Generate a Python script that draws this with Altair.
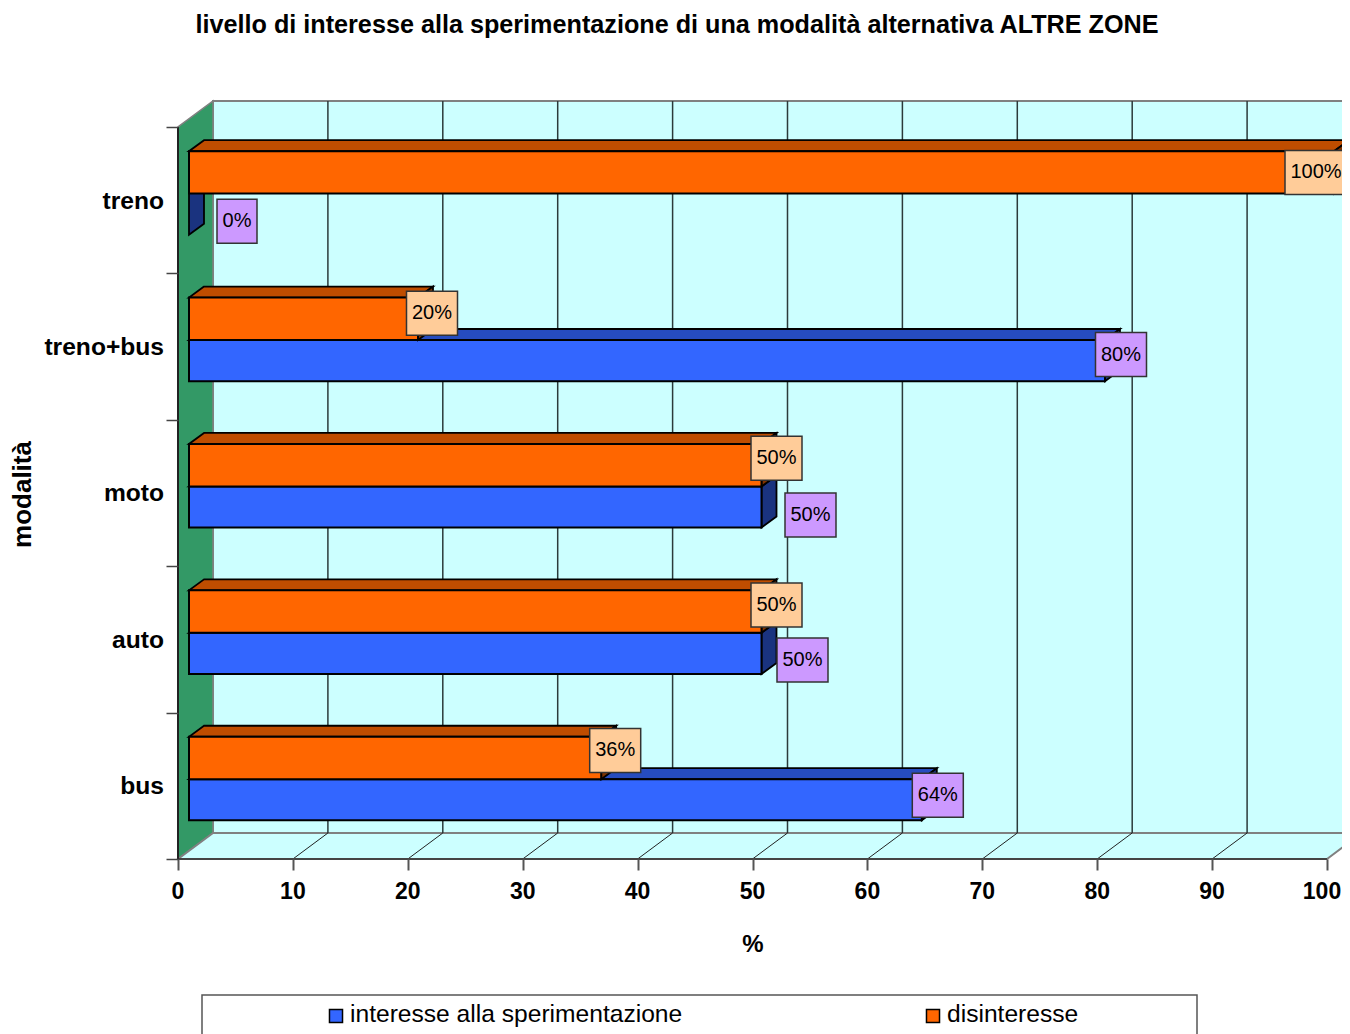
import altair as alt
import pandas as pd

# ---- data ----
CATEGORIES = ["bus", "auto", "moto", "treno+bus", "treno"]
INTERESSE = [64, 50, 50, 80, 0]
DISINTERESSE = [36, 50, 50, 20, 100]
SERIES = ["interesse alla sperimentazione", "disinteresse"]
X_TICKS = list(range(0, 101, 10))
TITLE = "livello di interesse alla sperimentazione di una modalità alternativa ALTRE ZONE"

# ---- layout ----
W, H = 1334, 1026
BOTTOM = 8 + H
RIGHT = 8 + W
PX_X, PX_Y = 11.49, 146.4          # pixels per data unit
X0_PX, Y0_PX = 178, 859            # page position of the front-left floor corner
def ux(px): return (px - X0_PX) / PX_X
def uy(py): return (Y0_PX - py) / PX_Y
def vx(px): return alt.value(px - 8)
def vy(py): return alt.value(py - 8)

N = len(CATEGORIES)
XS = alt.Scale(domain=[ux(8), ux(RIGHT)], nice=False, zero=False)
YS = alt.Scale(domain=[uy(BOTTOM), uy(8)], nice=False, zero=False)
XAX = alt.Axis(values=X_TICKS, offset=-(BOTTOM - Y0_PX), grid=False, domain=False,
               tickSize=11, tickColor="#555555", tickWidth=2, labels=False, title=None, zindex=1)
YAX = alt.Axis(values=list(range(N + 1)), offset=-(X0_PX - 8), grid=False, domain=False,
               tickSize=12, tickColor="#444444", tickWidth=1.5, labels=False, title=None, zindex=1)
def X(f="x"): return alt.X(f"{f}:Q", scale=XS, axis=XAX)
def Y(f="y"): return alt.Y(f"{f}:Q", scale=YS, axis=YAX)

FLOOR_DX, FLOOR_DY = ux(213), uy(833)   # depth of the 3D box
BAR_LEFT = 11 / PX_X
BAR_SCALE = 11.45 / PX_X
BAR_DX, BAR_DY = 15 / PX_X, 11 / PX_Y
C_WALL, C_GREEN, C_EDGE = "#CCFFFF", "#339966", "#808080"
C_GRID = "#2b3a3a"

layers = []

# --- back wall, side wall, floor ---
layers.append(alt.Chart(pd.DataFrame({"x": [FLOOR_DX], "x2": [FLOOR_DX + 100], "y": [FLOOR_DY], "y2": [FLOOR_DY + N]}))
    .mark_rect(fill=C_WALL, stroke=C_EDGE, strokeWidth=2, clip=True)
    .encode(x=X(), x2="x2:Q", y=Y(), y2="y2:Q"))

layers.append(alt.Chart(pd.DataFrame({"x": [0, FLOOR_DX], "y": [0, FLOOR_DY], "y2": [N, N + FLOOR_DY]}))
    .mark_area(fill=C_GREEN, stroke=C_EDGE, strokeWidth=1.5, opacity=1)
    .encode(x=X(), y=Y(), y2="y2:Q"))

layers.append(alt.Chart(pd.DataFrame({"y": [0, FLOOR_DY], "x": [0, FLOOR_DX], "x2": [100, 100 + FLOOR_DX]}))
    .mark_area(orient="horizontal", fill=C_WALL, stroke=C_EDGE, strokeWidth=2, clip=True, opacity=1)
    .encode(y=Y(), x=X(), x2="x2:Q"))

# gridlines on wall + floor
tick_inner = X_TICKS[1:-1]
layers.append(alt.Chart(pd.DataFrame({"x": [t + FLOOR_DX for t in tick_inner], "y": [FLOOR_DY] * len(tick_inner), "y2": [FLOOR_DY + N] * len(tick_inner)}))
    .mark_rule(color=C_GRID, strokeWidth=1.5)
    .encode(x=X(), y=Y(), y2="y2:Q"))
floor_rows = []
for t in tick_inner:
    floor_rows += [{"k": t, "x": t, "y": 0}, {"k": t, "x": t + FLOOR_DX, "y": FLOOR_DY}]
layers.append(alt.Chart(pd.DataFrame(floor_rows)).mark_line(color="#222222", strokeWidth=1)
    .encode(x=X(), y=Y(), detail="k:N"))

# axis lines
layers.append(alt.Chart(pd.DataFrame({"x": [0], "x2": [100], "y": [0]})).mark_rule(color="#444444", strokeWidth=2)
    .encode(x=X(), x2="x2:Q", y=Y()))
layers.append(alt.Chart(pd.DataFrame({"x": [0], "y": [0], "y2": [N]})).mark_rule(color="#222222", strokeWidth=2)
    .encode(x=X(), y=Y(), y2="y2:Q"))

# x tick labels (the last one is kept inside the page)
layers.append(alt.Chart(pd.DataFrame({"t": [str(t) for t in X_TICKS], "x": [min(t, ux(RIGHT - 20)) for t in X_TICKS], "y": [uy(892)] * len(X_TICKS)}))
    .mark_text(font="Liberation Sans", fontWeight="bold", fontSize=23, color="black", baseline="middle", align="center")
    .encode(x=X(), y=Y(), text="t:N"))

# --- bars ---
def bar_layers(values, y_lo, y_hi, front, top, side):
    fr, tp, sd = [], [], []
    for c, v in enumerate(values):
        x0 = BAR_LEFT
        x1 = BAR_LEFT + v * BAR_SCALE
        lo, hi = c + y_lo, c + y_hi
        fr.append({"x": x0, "x2": x1, "y": lo, "y2": hi})
        tp += [{"k": c, "y": hi, "x": x0, "x2": x1}, {"k": c, "y": hi + BAR_DY, "x": x0 + BAR_DX, "x2": x1 + BAR_DX}]
        sd += [{"k": c, "x": x1, "y": lo, "y2": hi}, {"k": c, "x": x1 + BAR_DX, "y": lo + BAR_DY, "y2": hi + BAR_DY}]
    out = [
        alt.Chart(pd.DataFrame(tp)).mark_area(orient="horizontal", fill=top, stroke="black", strokeWidth=1.8, opacity=1, clip=True)
            .encode(y=Y(), x=X(), x2="x2:Q", detail="k:N"),
        alt.Chart(pd.DataFrame(sd)).mark_area(fill=side, stroke="black", strokeWidth=1.8, opacity=1, clip=True)
            .encode(x=X(), y=Y(), y2="y2:Q", detail="k:N"),
    ]
    f = pd.DataFrame(fr)
    out.append(alt.Chart(f[f.x2 > f.x]).mark_rect(fill=front, stroke="black", strokeWidth=2)
               .encode(x=X(), x2="x2:Q", y=Y(), y2="y2:Q"))
    return out

MID, BOT, TOP = 0.545, 0.264, 0.835
layers += bar_layers(INTERESSE, BOT, MID, "#3366FF", "#264CBF", "#1A337F")
layers += bar_layers(DISINTERESSE, MID, TOP, "#FF6600", "#BF4D00", "#803300")

# --- data labels ---
LABEL_DX_BLUE = [16, 41, 49, 16, 48]     # pixels right of the bar end, per category
LABEL_DX_ORANGE = [14, 15, 15, 14, -18]
LABEL_DY_BLUE = [4.5, -6.5, -8, 6, -7]   # pixels above the bar middle, per category
LABEL_DY_ORANGE = [7.5, 6.5, 7, 5.5, 0]
def label_rows(values, dxs, dys, y_lo, y_hi):
    rows = []
    for c, v in enumerate(values):
        txt = f"{v}%"
        half = {2: 20, 3: 25.5, 4: 31}[len(txt)]
        cx = BAR_LEFT + v * BAR_SCALE + dxs[c] / PX_X
        cy = c + (y_lo + y_hi) / 2 + dys[c] / PX_Y
        rows.append({"t": txt, "x": cx, "xa": cx - half / PX_X, "xb": cx + half / PX_X,
                     "y": cy, "ya": cy - 22 / PX_Y, "yb": cy + 22 / PX_Y})
    return pd.DataFrame(rows)
for vals, dxs, dys, lo, hi, col in [
    (INTERESSE, LABEL_DX_BLUE, LABEL_DY_BLUE, BOT, MID, "#CC99FF"),
    (DISINTERESSE, LABEL_DX_ORANGE, LABEL_DY_ORANGE, MID, TOP, "#FFCC99"),
]:
    d = label_rows(vals, dxs, dys, lo, hi)
    layers.append(alt.Chart(d).mark_rect(fill=col, stroke="#333333", strokeWidth=1.5, clip=True)
        .encode(x=X("xa"), x2="xb:Q", y=Y("ya"), y2="yb:Q"))
    layers.append(alt.Chart(d).mark_text(font="Liberation Sans", fontSize=20, color="black", baseline="middle", align="center")
        .encode(x=X(), y=Y(), text="t:N"))

# --- category labels ---
layers.append(alt.Chart(pd.DataFrame({"c": CATEGORIES, "y": [i + 0.49 for i in range(N)], "x": [ux(164)] * N}))
    .mark_text(font="Liberation Sans", fontWeight="bold", fontSize=24.6, align="right", baseline="middle", color="black")
    .encode(x=X(), y=Y(), text="c:N"))

# --- titles ---
def text_at(txt, px, py, **kw):
    return alt.Chart(pd.DataFrame({"t": [txt]})).mark_text(font="Liberation Sans", color="black", baseline="middle", align="center", **kw) \
        .encode(x=vx(px), y=vy(py), text="t:N")
layers.append(text_at(TITLE, 677, 25, fontWeight="bold", fontSize=25.2))
layers.append(text_at("modalità", 23, 494.5, fontWeight="bold", fontSize=26, angle=270))
layers.append(text_at("%", 753, 945, fontWeight="bold", fontSize=24))

# --- legend ---
layers.append(alt.Chart(pd.DataFrame({"x": [ux(202)], "x2": [ux(1197)], "y": [uy(995)], "y2": [uy(1060)]}))
    .mark_rect(fill="white", stroke="#555555", strokeWidth=1.5, clip=True)
    .encode(x=X(), x2="x2:Q", y=Y(), y2="y2:Q"))
for name, col, sx, tx in [(SERIES[0], "#3366FF", 336, 350), (SERIES[1], "#FF6600", 933, 947)]:
    layers.append(alt.Chart(pd.DataFrame({"t": [name]})).mark_square(size=170, fill=col, stroke="black", strokeWidth=1.5, opacity=1)
        .encode(x=vx(sx), y=vy(1016)))
    layers.append(alt.Chart(pd.DataFrame({"t": [name]})).mark_text(font="Liberation Sans", fontSize=24.6, color="black", align="left", baseline="middle")
        .encode(x=vx(tx), y=vy(1015), text="t:N"))

chart = alt.layer(*layers).properties(
    width=W, height=H, padding=0, autosize=alt.AutoSizeParams(type="none")
).configure_view(stroke=None)

chart.save("out.html", embed_options={"renderer": "svg", "actions": False})
